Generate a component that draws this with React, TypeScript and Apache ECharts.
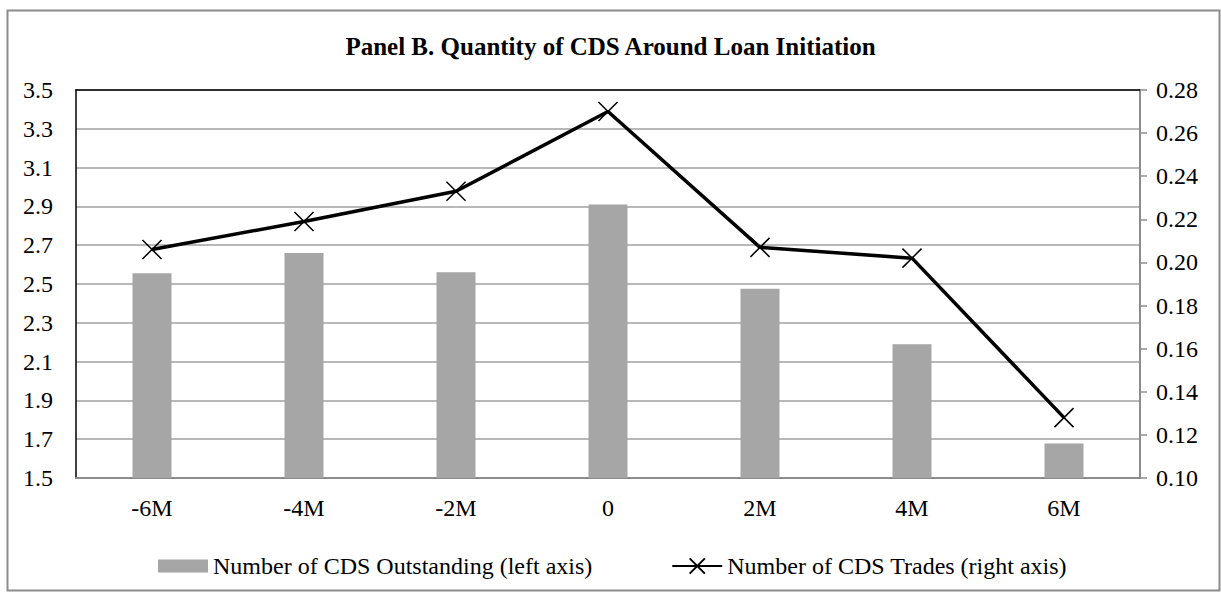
import React, { useEffect, useRef } from "react";
import * as echarts from "echarts";

const categories = ["-6M", "-4M", "-2M", "0", "2M", "4M", "6M"];
const outstanding = [2.555, 2.66, 2.56, 2.91, 2.475, 2.19, 1.678];
const trades = [0.206, 0.219, 0.233, 0.27, 0.207, 0.202, 0.128];
const titleText = "Panel B. Quantity of CDS Around Loan Initiation";
const barName = "Number of CDS Outstanding (left axis)";
const lineName = "Number of CDS Trades (right axis)";

const FONT = "'Liberation Serif', 'DejaVu Serif', serif";
const FS = 24;

export default function App() {
  const ref = useRef<HTMLDivElement>(null);
  useEffect(() => {
    document.body.style.margin = "0";
    const chart = echarts.init(ref.current!, null, { renderer: "svg" });
    chart.setOption({
      animation: false,
      backgroundColor: "#fff",
      textStyle: { fontFamily: FONT, color: "#000" },
      title: {
        text: titleText,
        left: "center",
        top: 29,
        textStyle: { fontFamily: FONT, fontWeight: "bold", fontSize: 25, color: "#000" },
      },
      graphic: [
        {
          type: "rect",
          shape: { x: 7.5, y: 10.5, width: 1212, height: 580 },
          style: { fill: "none", stroke: "#8c8c8c", lineWidth: 2 },
          silent: true,
        },
      ],
      legend: {
        left: 153,
        top: 549,
        itemWidth: 50,
        itemHeight: 19,
        itemGap: 79,
        textStyle: { fontFamily: FONT, fontSize: FS, color: "#000" },
        data: [
          { name: barName, icon: "path://M0,0M0,19M0,3L50,3L50,16L0,16Z" },
          { name: lineName },
        ],
      },
      grid: { left: 76, right: 81, top: 90, bottom: 115 },
      xAxis: [
        {
          type: "category",
          data: categories,
          axisLine: { lineStyle: { color: "#8c8c8c", width: 2 } },
          axisTick: { show: false },
          axisLabel: { fontFamily: FONT, fontSize: FS, color: "#000", margin: 18 },
        },
        {
          type: "category",
          data: categories,
          position: "top",
          axisLine: { lineStyle: { color: "#000", width: 1.5 } },
          axisTick: { show: false },
          axisLabel: { show: false },
        },
      ],
      yAxis: [
        {
          type: "value",
          min: 1.5,
          max: 3.5,
          interval: 0.2,
          axisLine: { show: true, lineStyle: { color: "#000", width: 1.5 } },
          axisTick: { show: false },
          axisLabel: {
            fontFamily: FONT,
            fontSize: FS,
            color: "#000",
            margin: 23,
            formatter: (v: number) => v.toFixed(1),
          },
          splitLine: { show: true, lineStyle: { color: "#a0a0a0", width: 1.5 } },
        },
        {
          type: "value",
          min: 0.1,
          max: 0.28,
          interval: 0.02,
          position: "right",
          axisLine: { show: true, lineStyle: { color: "#8c8c8c", width: 2 } },
          axisTick: { show: true, length: 7, lineStyle: { color: "#8c8c8c", width: 1.5 } },
          axisLabel: {
            fontFamily: FONT,
            fontSize: FS,
            color: "#000",
            margin: 16,
            formatter: (v: number) => v.toFixed(2),
          },
          splitLine: { show: false },
        },
      ],
      series: [
        {
          name: barName,
          type: "bar",
          data: outstanding,
          yAxisIndex: 0,
          barWidth: 39,
          itemStyle: { color: "#a6a6a6" },
        },
        {
          name: lineName,
          type: "line",
          data: trades,
          yAxisIndex: 1,
          symbol: "path://M0,0L10,10M10,0L0,10",
          symbolSize: 19,
          lineStyle: { color: "#000", width: 3.5 },
          itemStyle: { color: "#000", borderColor: "#000", borderWidth: 1.5 },
        },
      ],
    });
    return () => chart.dispose();
  }, []);
  return <div ref={ref} style={{ width: 1221, height: 593 }} />;
}
